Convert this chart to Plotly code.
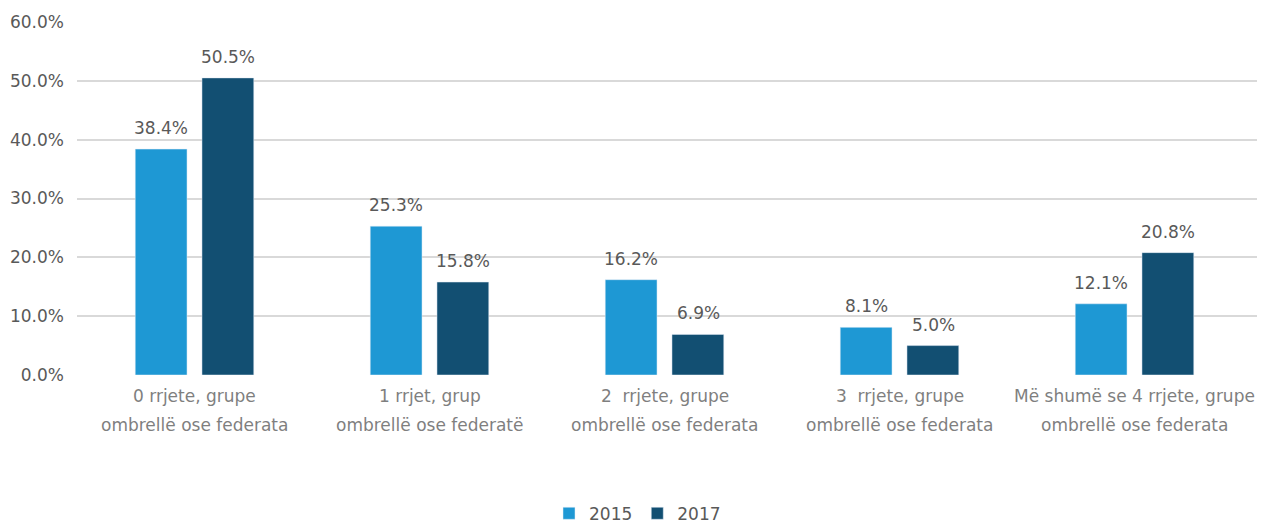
import plotly.graph_objects as go

categories_l1 = ["0 rrjete, grupe", "1 rrjet, grup", "2  rrjete, grupe", "3  rrjete, grupe", "Më shumë se 4 rrjete, grupe"]
categories_l2 = ["ombrellë ose federata", "ombrellë ose federatë", "ombrellë ose federata", "ombrellë ose federata", "ombrellë ose federata"]
cats = [f"c{i}" for i in range(len(categories_l1))]
v2015 = [38.4, 25.3, 16.2, 8.1, 12.1]
v2017 = [50.5, 15.8, 6.9, 5.0, 20.8]
yticks = [0, 10, 20, 30, 40, 50, 60]

FONT = "DejaVu Sans"
FS = 17
fig = go.Figure()
fig.add_trace(go.Bar(name="2015", x=cats, y=v2015, marker_color="#1e98d4"))
fig.add_trace(go.Bar(name="2017", x=cats, y=v2017, marker_color="#124f72"))

# value labels
for vals, xs in ((v2015, -33.5), (v2017, 33.5)):
    for c, v in zip(cats, vals):
        fig.add_annotation(x=c, xref="x", y=v, yref="y", xshift=xs, yshift=9,
                           text=f"{v:.1f}%", showarrow=False, yanchor="bottom",
                           font=dict(size=FS, color="#595959", family=FONT))

# category labels (two lines)
for c, l1, l2 in zip(cats, categories_l1, categories_l2):
    fig.add_annotation(x=c, xref="x", y=0, yref="paper", yshift=-21, text=l1.replace("  ", "&nbsp; "),
                       showarrow=False, yanchor="middle",
                       font=dict(size=FS, color="#7f7f7f", family=FONT))
    fig.add_annotation(x=c, xref="x", y=0, yref="paper", yshift=-50, text=l2,
                       showarrow=False, yanchor="middle",
                       font=dict(size=FS, color="#7f7f7f", family=FONT))

fig.update_layout(
    width=1272, height=524,
    margin=dict(l=77, r=15, t=22, b=149, autoexpand=False),
    paper_bgcolor="white", plot_bgcolor="white",
    barmode="group", bargap=0.432, bargroupgap=0.224,
    font=dict(family=FONT, color="#595959", size=FS),
    showlegend=True,
    legend=dict(orientation="h", x=0.475, xanchor="center", y=-0.393, yanchor="middle",
                font=dict(size=FS, color="#595959", family=FONT), traceorder="normal",
                itemwidth=30, tracegroupgap=0),
    xaxis=dict(showticklabels=False, showgrid=False, zeroline=False, showline=False, ticks=""),
    yaxis=dict(range=[0, 60], tickvals=yticks, ticktext=[f"{t:.1f}%" for t in yticks],
               showgrid=True, gridcolor="#d9d9d9", gridwidth=2, zeroline=False, automargin=False,
               tickfont=dict(size=FS, color="#595959", family=FONT), ticks="", ticklabelstandoff=12),
)
fig.write_html("out.html", config={"displayModeBar": False},
               post_script="document.body.style.margin='0';")
